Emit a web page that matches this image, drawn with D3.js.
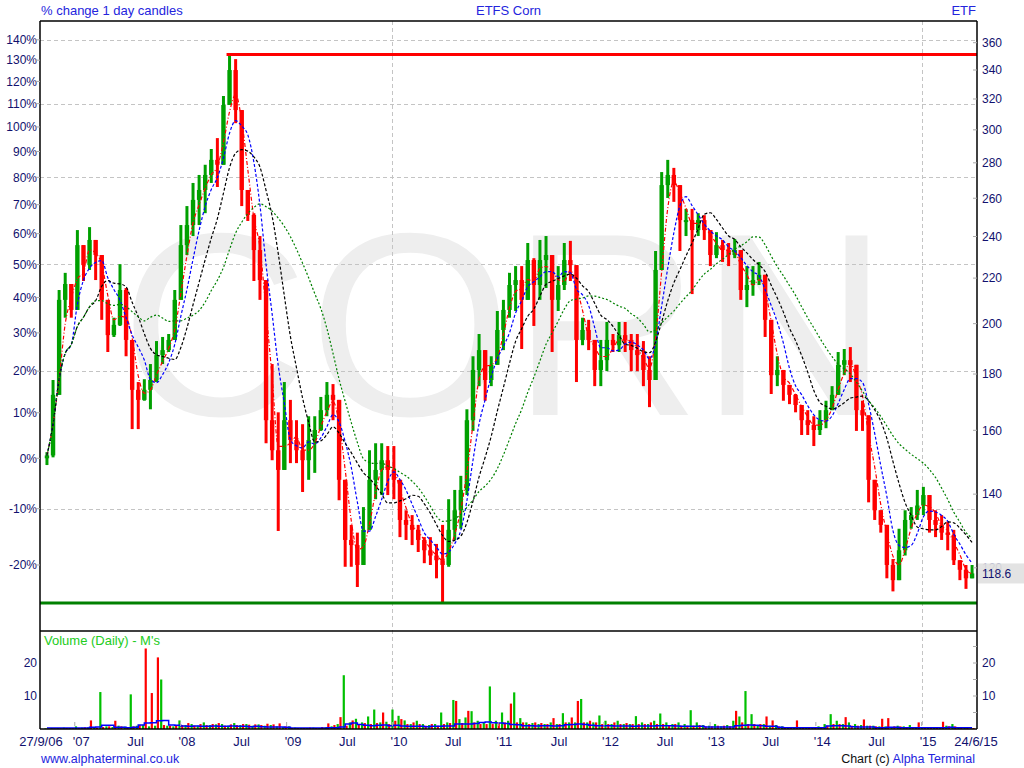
<!DOCTYPE html>
<html><head><meta charset="utf-8">
<script src="https://cdn.jsdelivr.net/npm/d3@7"></script>
<style>
html,body{margin:0;padding:0;background:#fff;}
svg{display:block;font-family:"Liberation Sans",Arial,sans-serif;}
</style></head><body>
<svg id="chart" width="1024" height="768"></svg>
<script>
// ---------------- DATA ----------------
const titleLeft = "% change 1 day candles";
const titleCenter = "ETFS Corn";
const titleRight = "ETF";
const watermark = "CORN";
const volumeTitle = "Volume (Daily) - M's";
const footerLeft = "www.alphaterminal.co.uk";
const footerRight1 = "Chart (c) ";
const footerRight2 = "Alpha Terminal";

const startDate = "2006-09-27";   // first candle
const periodDays = 21;            // each candle summarises 3 weeks
const basePrice = 150.9;          // ETF price at 0%
const lastPrice = 118.6;

const closePct = [0.6,14.2,39.3,44.0,36.4,56.2,49.8,57.9,53.0,39.3,
29.4,32.2,42.2,28.1,15.4,13.0,15.4,17.8,24.1,25.4,
28.1,39.3,56.2,62.9,71.7,75.3,80.9,86.7,84.8,109.4,
125.3,107.2,75.3,66.4,54.6,45.2,8.3,1.7,-2.4,8.3,
3.9,1.7,-0.4,3.9,6.1,10.6,14.2,13.0,-4.4,-15.7,
-16.6,-20.0,-13.9,-4.4,-2.4,-0.4,-2.4,-4.4,-12.1,-13.0,
-13.9,-15.7,-17.5,-18.4,-19.2,-20.0,-13.9,-10.3,-6.4,8.3,
20.3,25.4,17.8,21.6,30.8,36.4,43.7,45.2,39.3,51.4,
43.7,51.4,53.0,39.3,43.7,51.4,49.8,28.1,30.8,28.1,
20.3,22.8,28.1,26.7,29.4,28.1,25.4,24.1,20.3,17.8,
48.3,77.1,80.9,77.1,64.6,64.6,61.2,64.6,61.2,53.0,
56.2,54.6,53.0,54.6,42.2,43.7,45.2,46.8,33.6,19.0,
20.3,16.6,14.2,11.8,8.3,7.2,6.1,8.3,10.6,14.2,
21.6,22.8,21.6,10.6,9.4,-4.4,-10.3,-13.0,-20.0,-22.5,
-17.5,-12.1,-11.2,-9.4,-7.4,-12.1,-13.0,-14.4,-14.8,-19.2,
-20.8,-22.2,-21.4];

const highPct = [1.3,17.8,42.2,47.4,42.8,61.2,54.3,62.2,57.9,48.3,
35.0,34.2,50.1,42.8,26.7,17.3,18.0,21.8,27.8,28.9,
29.7,42.2,62.9,69.5,77.9,80.9,84.8,91.0,95.4,113.4,
132.8,130.5,101.6,73.9,67.0,59.2,26.7,21.8,10.1,17.3,
13.0,8.3,7.4,9.2,9.2,13.7,17.3,16.8,13.0,-8.2,
-13.0,-14.4,-9.7,1.7,3.2,3.2,2.6,2.6,-8.2,-10.3,
-11.2,-13.0,-15.2,-15.2,-16.4,-13.0,-8.2,-6.4,-3.6,10.8,
23.8,29.7,21.8,23.8,36.1,39.3,47.4,49.5,49.5,56.9,
52.0,57.9,59.2,47.4,49.5,56.9,57.6,45.2,34.2,33.6,
25.7,28.1,33.0,29.7,33.0,33.0,29.7,29.7,27.8,23.8,
54.3,82.0,86.7,83.6,69.5,68.5,68.5,67.0,66.3,59.2,
60.5,57.9,56.9,58.2,53.0,49.5,49.5,50.8,40.5,25.7,
23.8,20.0,16.6,14.4,11.8,10.6,9.2,10.6,12.8,16.3,
24.9,25.7,26.2,18.0,12.8,3.9,-4.4,-10.3,-15.7,-19.0,
-13.7,-10.3,-9.7,-6.4,-5.8,-9.4,-10.3,-11.2,-12.4,-13.9,
-19.7,-20.0,-20.0];

const lowPct = [-1.4,0.2,25.4,34.2,34.2,39.9,44.9,48.3,45.2,33.6,
24.9,28.9,31.9,23.8,6.3,6.3,12.8,10.8,17.3,21.8,
24.9,30.8,42.2,53.0,59.2,62.9,67.0,77.9,76.4,90.6,
111.6,101.6,69.5,64.3,44.9,39.3,3.2,-0.4,-14.1,0.0,
-1.0,-1.0,-6.8,-4.4,-3.0,5.9,9.2,8.3,-8.4,-20.3,
-20.3,-23.6,-19.0,-11.0,-8.2,-7.4,-7.4,-8.2,-15.2,-15.7,
-16.6,-17.8,-19.7,-20.0,-22.2,-26.1,-20.3,-15.7,-13.7,-7.4,
5.9,16.3,12.8,16.3,21.8,25.4,34.2,36.1,25.7,42.8,
31.9,39.3,42.8,24.9,36.1,42.2,44.9,17.3,26.7,25.4,
16.3,16.3,20.0,24.9,24.9,24.9,20.0,20.0,16.3,11.3,
23.8,64.3,72.4,71.0,54.3,59.2,41.0,59.2,57.9,49.5,
52.0,50.8,49.5,52.0,39.3,37.2,40.5,43.7,28.9,14.4,
16.3,12.8,12.0,10.1,5.0,5.0,2.6,5.0,6.5,10.8,
16.3,19.0,17.3,5.9,5.9,-8.8,-12.1,-14.4,-22.2,-24.3,
-21.7,-18.4,-13.7,-12.1,-11.2,-14.4,-15.2,-15.7,-17.5,-20.0,
-22.5,-23.9,-22.2];

// volume in millions: tallest up-day bar and tallest down-day bar in each period
const volUp = [0.2,0.3,0.3,0.4,0.3,0.8,0.4,0.5,0.6,11.2,
0.8,0.6,1.0,0.7,10.5,1.0,1.2,0.8,1.0,15.0,
1.0,0.8,2.6,1.2,1.5,1.0,2.0,1.2,1.4,1.5,
1.0,1.8,1.2,1.5,1.0,1.4,1.0,1.2,0.8,0.6,
0.8,0.4,0.3,0.3,0.4,0.3,0.5,0.8,1.5,16.3,
2.0,3.1,2.0,3.8,5.9,2.0,2.2,5.9,4.0,2.6,
1.5,2.5,1.5,1.2,1.5,5.0,2.0,8.8,3.0,3.5,
5.4,2.5,2.0,12.9,2.5,5.0,2.5,11.1,3.3,2.0,
1.8,1.5,1.5,2.0,1.5,4.8,2.0,2.0,9.1,2.0,
2.0,4.1,2.5,1.5,2.5,1.5,1.5,3.9,2.0,1.5,
2.5,4.7,2.0,1.5,2.0,1.5,5.7,2.0,1.2,1.0,
1.5,0.8,1.2,2.5,3.8,11.5,4.5,1.0,1.5,1.0,
1.2,0.8,0.5,0.5,0.6,0.5,0.6,0.8,1.5,4.5,
2.5,1.5,2.0,1.5,1.2,1.0,1.0,0.8,0.8,0.6,
1.0,0.8,1.2,0.5,0.5,0.4,0.6,0.6,1.0,1.5,
0.6,0.3,0.2];

const volDown = [0.1,0.2,0.2,0.3,0.3,0.3,0.5,2.6,0.4,0.6,
0.8,2.5,0.8,0.6,0.8,1.2,24.4,10.9,21.7,1.2,
1.0,1.0,1.2,1.8,1.0,1.5,1.2,1.5,1.8,1.0,
1.4,1.2,1.5,1.3,1.4,1.2,1.6,1.4,1.7,0.8,
0.3,0.3,0.3,0.4,0.3,0.6,1.7,1.2,3.6,1.0,
2.6,1.5,1.8,1.5,1.8,5.0,1.5,2.5,3.0,1.5,
2.0,1.5,1.0,1.5,1.0,1.5,1.8,8.5,1.8,5.5,
2.0,1.5,1.5,1.5,1.8,2.0,7.7,2.0,2.0,1.5,
2.0,1.8,1.5,3.3,1.5,2.0,3.5,8.5,2.0,2.5,
2.0,1.5,1.5,2.0,1.5,1.8,1.5,1.5,1.5,2.0,
1.5,1.5,1.2,1.5,1.0,1.0,1.0,1.2,0.8,0.8,
1.0,1.0,0.8,5.5,2.0,1.5,1.5,1.5,3.8,2.6,
0.8,0.6,0.6,2.6,0.5,0.6,0.5,0.6,1.0,1.5,
1.5,3.6,1.0,1.0,2.9,1.0,0.8,3.1,3.3,0.8,
0.8,0.6,0.6,2.0,0.6,0.5,0.5,2.2,0.8,0.8,
0.5,0.5,0.3];

const volAvg = [0.3,0.3,0.3,0.3,0.3,0.3,0.3,0.5,0.6,1.1,
1.1,0.5,0.5,0.4,0.5,1.2,1.8,1.9,2.5,2.6,
1.2,1.1,0.9,0.8,0.9,0.8,0.8,0.9,0.8,0.8,
0.9,0.8,0.8,0.7,0.8,0.7,0.6,0.6,0.6,0.5,
0.3,0.3,0.3,0.3,0.3,0.3,0.4,0.4,0.6,1.5,
1.8,1.4,1.1,1.0,1.1,1.2,1.0,1.1,0.9,0.8,
0.8,0.8,0.7,0.8,0.8,0.9,0.9,1.5,1.5,1.5,
1.7,2.0,2.1,1.9,1.8,1.7,1.4,1.3,1.0,1.0,
0.9,1.0,1.0,0.9,1.0,1.3,1.4,1.5,1.4,1.1,
1.0,1.0,1.0,0.9,0.9,0.9,0.8,0.9,0.9,0.9,
1.0,1.0,1.0,0.9,0.8,0.8,0.8,0.8,0.6,0.6,
0.6,0.6,0.6,1.0,1.1,1.2,1.1,1.0,0.8,0.8,
0.5,0.4,0.4,0.4,0.4,0.4,0.4,0.4,0.9,1.0,
1.0,0.9,0.7,0.6,0.6,0.6,0.4,0.4,0.5,0.5,
0.4,0.4,0.4,0.4,0.4,0.4,0.4,0.4,0.5,0.4,
0.4,0.4,0.4];

const pctTicks = [140,130,120,110,100,90,80,70,60,50,40,30,20,10,0,-10,-20];
const pctGrid = [140,110,80,50,20,-10];
const priceTicks = [120,140,160,180,200,220,240,260,280,300,320,340,360];
const volTicks = [10,20];
const volMinorTicks = [5,15,25];
const yearTicks = ["2007-01-01","2008-01-01","2009-01-01","2010-01-01","2011-01-01","2012-01-01","2013-01-01","2014-01-01","2015-01-01"];
const julTicks = ["2007-07-01","2008-07-01","2009-07-01","2010-07-01","2011-07-01","2012-07-01","2013-07-01","2014-07-01"];
const firstLabel = "27/9/06";
const lastLabel = "24/6/15";
const maWindows = [3, 5, 9, 17]; // red, blue, black, green (periods)

// ---------------- LAYOUT ----------------
const L = 40, R = 977, T = 21, MB = 631, VB = 729;
const axisCol = "#11116e", blueTxt = "#2424dd";
const svg = d3.select("#chart");
const parse = d3.utcParse("%Y-%m-%d");

const n = Math.min(closePct.length, highPct.length, lowPct.length);
const t0 = parse(startDate);
const data = d3.range(n).map(i => {
  const open = i === 0 ? 0 : closePct[i-1];
  const close = closePct[i];
  return {
    date: d3.utcDay.offset(t0, periodDays*i),
    open, close,
    high: Math.max(highPct[i], open, close),
    low: Math.min(lowPct[i], open, close),
    up: close >= open,
    vu: volUp[i] || 0, vd: volDown[i] || 0, va: volAvg[i] || 0
  };
});

const x = d3.scaleUtc().domain([parse("2006-09-03"), parse("2015-07-11")]).range([L, R]);
const yR = d3.scaleLog().domain([0.6968, 2.4964]).range([MB, T]); // ratio to base
const yP = p => yR(1 + p/100);
const yV = d3.scaleLinear().domain([0, 29.7]).range([VB, MB]);

// watermark
svg.append("text").attr("x", (L+R)/2 - 4).attr("y", 415)
  .attr("text-anchor","middle").attr("font-size", 261).attr("fill","#eeeeee")
  .text(watermark);

// gridlines
const grid = svg.append("g").attr("stroke","#c4c4c4").attr("stroke-dasharray","4,3").attr("stroke-width",1);
pctGrid.forEach(p => grid.append("line").attr("x1",L).attr("x2",R)
  .attr("y1",Math.round(yP(p))+0.5).attr("y2",Math.round(yP(p))+0.5));
yearTicks.map(parse).filter(d => d.getUTCFullYear() % 5 === 0).forEach(d =>
  grid.append("line").attr("x1",Math.round(x(d))+0.5).attr("x2",Math.round(x(d))+0.5).attr("y1",T).attr("y2",VB));

// clip for main panel
svg.append("clipPath").attr("id","mainclip").append("rect").attr("x",L).attr("y",T).attr("width",R-L).attr("height",MB-T);
const main = svg.append("g").attr("clip-path","url(#mainclip)");

// candles
const GREEN = "#00a000", RED = "#ff0000";
const cg = main.append("g");
cg.selectAll("line.wick").data(data).join("line").attr("class","wick")
  .attr("x1", d => x(d.date)).attr("x2", d => x(d.date))
  .attr("y1", d => yP(d.high)).attr("y2", d => yP(d.low))
  .attr("stroke", d => d.up ? GREEN : RED).attr("stroke-width", 3);
cg.selectAll("rect.body").data(data).join("rect").attr("class","body")
  .attr("x", d => x(d.date) - 2.2).attr("width", 4.4)
  .attr("y", d => Math.min(yP(d.open), yP(d.close)))
  .attr("height", d => Math.max(2, Math.abs(yP(d.open) - yP(d.close))))
  .attr("fill", d => d.up ? GREEN : RED);

// moving averages on price ratio
const ratios = data.map(d => 1 + d.close/100);
function sma(arr, w) { return arr.map((v,i) => d3.mean(arr.slice(Math.max(0, i-w+1), i+1))); }
const maStyles = [
  {col:"#ff0000", dash:"4,2,1,2"},
  {col:"#0000ff", dash:"3,2"},
  {col:"#000000", dash:"3,2"},
  {col:"#008000", dash:"2,2"}
];
maWindows.forEach((w, k) => {
  const vals = sma(ratios, w);
  const line = d3.line().curve(d3.curveMonotoneX).x((v,i) => x(data[i].date)).y(v => yR(v));
  main.append("path").datum(vals).attr("d", line).attr("fill","none")
    .attr("stroke", maStyles[k].col).attr("stroke-width", 1.2).attr("stroke-dasharray", maStyles[k].dash);
});

// high / low lines
const maxD = data.reduce((a,b) => b.high > a.high ? b : a);
const minD = data.reduce((a,b) => b.low < a.low ? b : a);
svg.append("line").attr("x1", x(maxD.date) - 3).attr("x2", R).attr("y1", yP(maxD.high)).attr("y2", yP(maxD.high))
  .attr("stroke","#ff0000").attr("stroke-width",3);
svg.append("line").attr("x1", L).attr("x2", R).attr("y1", yP(minD.low)).attr("y2", yP(minD.low))
  .attr("stroke","#008000").attr("stroke-width",3);

// volume
const vg = svg.append("g");
vg.selectAll("rect.vu").data(data).join("rect").attr("class","vu")
  .attr("x", d => x(d.date) - 2.5).attr("width", 2.2)
  .attr("y", d => yV(d.vu)).attr("height", d => VB - yV(d.vu)).attr("fill", "#00c000");
vg.selectAll("rect.vd").data(data).join("rect").attr("class","vd")
  .attr("x", d => x(d.date) + 0.3).attr("width", 2.2)
  .attr("y", d => yV(d.vd)).attr("height", d => VB - yV(d.vd)).attr("fill", "#ff0000");
vg.append("path").datum(data).attr("fill","none").attr("stroke","#0000ff").attr("stroke-width",1.5)
  .attr("d", d3.line().curve(d3.curveStepAfter).x(d => x(d.date)).y(d => yV(d.va)));

// frame
const frame = svg.append("g").attr("stroke","#000").attr("stroke-width",1.5).attr("fill","none");
frame.append("line").attr("x1",L).attr("x2",R).attr("y1",T).attr("y2",T);
frame.append("line").attr("x1",L).attr("x2",R).attr("y1",MB).attr("y2",MB);
frame.append("line").attr("x1",L).attr("x2",R).attr("y1",VB).attr("y2",VB);
frame.append("line").attr("x1",L).attr("x2",L).attr("y1",T).attr("y2",VB);
frame.append("line").attr("x1",R).attr("x2",R).attr("y1",T).attr("y2",VB);

// left % axis
const ax = svg.append("g").attr("font-size",12).attr("fill",axisCol);
pctTicks.forEach(p => {
  const y = yP(p);
  svg.append("line").attr("x1",L-4).attr("x2",L).attr("y1",y).attr("y2",y).attr("stroke","#aaa");
  ax.append("text").attr("x",L-3).attr("y",y).attr("dy","0.36em").attr("text-anchor","end").text(p + "%");
});
// right price axis (the tick hidden behind the last-price tag is drawn faintly)
const yl = yR(lastPrice/basePrice);
priceTicks.forEach(p => {
  const y = yR(p/basePrice);
  svg.append("line").attr("x1",R-4).attr("x2",R).attr("y1",y).attr("y2",y).attr("stroke","#aaa");
  ax.append("text").attr("x",R+5).attr("y",y).attr("dy","0.36em")
    .attr("opacity", Math.abs(y - yl) < 14 ? 0.35 : 1).text(p);
});
// last price tag
svg.append("rect").attr("x",R+1).attr("y",yl-10).attr("width",1024-R-1).attr("height",20).attr("fill","#dcdcdc").attr("opacity",0.8);
svg.append("text").attr("x",R+5).attr("y",yl).attr("dy","0.38em").attr("font-size",12).attr("fill",axisCol).text(lastPrice.toFixed(1));

// volume axes
volTicks.forEach(v => {
  const y = yV(v);
  svg.append("line").attr("x1",R-4).attr("x2",R).attr("y1",y).attr("y2",y).attr("stroke","#aaa");
  ax.append("text").attr("x",L-3).attr("y",y).attr("dy","0.36em").attr("text-anchor","end").text(v);
  ax.append("text").attr("x",R+5).attr("y",y).attr("dy","0.36em").text(v);
});
volMinorTicks.forEach(v => {
  const y = yV(v);
  svg.append("line").attr("x1",R-4).attr("x2",R).attr("y1",y).attr("y2",y).attr("stroke","#aaa");
});

// x axis
const xa = svg.append("g").attr("font-size",13).attr("fill",axisCol);
yearTicks.map(parse).forEach(d => {
  const xx = x(d);
  svg.append("line").attr("x1",xx).attr("x2",xx).attr("y1",VB-7).attr("y2",VB-3).attr("stroke","#aaa");
  xa.append("text").attr("x",xx-2).attr("y",746).text("'" + d3.utcFormat("%y")(d));
});
julTicks.map(parse).forEach(d => {
  xa.append("text").attr("x",x(d)).attr("y",746).text(d3.utcFormat("%b")(d));
});
xa.append("text").attr("x",L+1).attr("y",746).attr("text-anchor","middle").text(firstLabel);
xa.append("text").attr("x",R-1).attr("y",746).attr("text-anchor","middle").text(lastLabel);

// titles
svg.append("text").attr("x",41).attr("y",15).attr("font-size",13).attr("fill",blueTxt).text(titleLeft);
svg.append("text").attr("x",(L+R)/2).attr("y",15).attr("font-size",13).attr("fill",blueTxt).attr("text-anchor","middle").text(titleCenter);
svg.append("text").attr("x",976).attr("y",15).attr("font-size",13).attr("fill",blueTxt).attr("text-anchor","end").text(titleRight);
svg.append("text").attr("x",44).attr("y",645).attr("font-size",13).attr("fill","#22cc22").text(volumeTitle);
svg.append("text").attr("x",41).attr("y",763).attr("font-size",12.5).attr("fill",blueTxt).text(footerLeft);
const fr = svg.append("text").attr("x",975).attr("y",763).attr("font-size",12.5).attr("text-anchor","end");
fr.append("tspan").attr("fill","#111").text(footerRight1);
fr.append("tspan").attr("fill",blueTxt).text(footerRight2);
</script>
</body></html>
